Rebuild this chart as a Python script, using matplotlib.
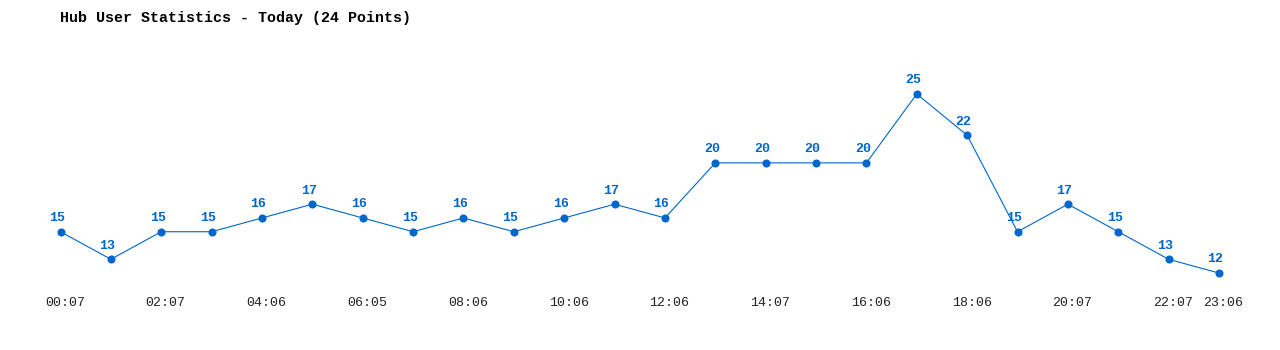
import matplotlib
matplotlib.use("Agg")
import matplotlib.pyplot as plt
import matplotlib.transforms as mtransforms
import numpy as np

TIMES = ["00:07", "", "02:07", "", "04:06", "", "06:05", "", "08:06", "", "10:06", "",
         "12:06", "", "14:07", "", "16:06", "", "18:06", "", "20:07", "", "22:07", "23:06"]
USERS = [15, 13, 15, 15, 16, 17, 16, 15, 16, 15, 16, 17,
         16, 20, 20, 20, 20, 25, 22, 15, 17, 15, 13, 12]

BLUE = "#0066cc"
FONT = "Liberation Mono"

fig = plt.figure(figsize=(12.8, 3.5), dpi=100)
ax = fig.add_axes([40 / 1280, 60 / 350, 1200 / 1280, 250 / 350])

x = np.arange(len(USERS))
ax.plot(x, USERS, color=BLUE, linewidth=0.8, marker="o", markersize=4.8, zorder=3)

for xi, v in zip(x, USERS):
    ax.annotate(str(v), (xi, v), xytext=(-2.5, 5.5), textcoords="offset points",
                ha="center", va="bottom", color=BLUE, fontsize=9.5,
                fontweight="bold", family=FONT)

ax.set_xlim(-0.407, 23.417)
ax.set_ylim(10.77, 28.92)

ticks = [i for i, t in enumerate(TIMES) if t]
ax.set_xticks(ticks)
ax.set_xticklabels([TIMES[i] for i in ticks], family=FONT, fontsize=9.5, color="#222222")
ax.tick_params(axis="x", length=0, pad=5)
shift = mtransforms.ScaledTranslation(4.5 / 100, 0, fig.dpi_scale_trans)
for lab in ax.get_xticklabels():
    lab.set_transform(lab.get_transform() + shift)
ax.set_yticks([])
for s in ax.spines.values():
    s.set_visible(False)

fig.text(60 / 1280, 1 - 18 / 350, "Hub User Statistics - Today (24 Points)",
         family=FONT, fontsize=10.8, fontweight="bold", va="center", ha="left")

fig.savefig("out.png", dpi=100)
